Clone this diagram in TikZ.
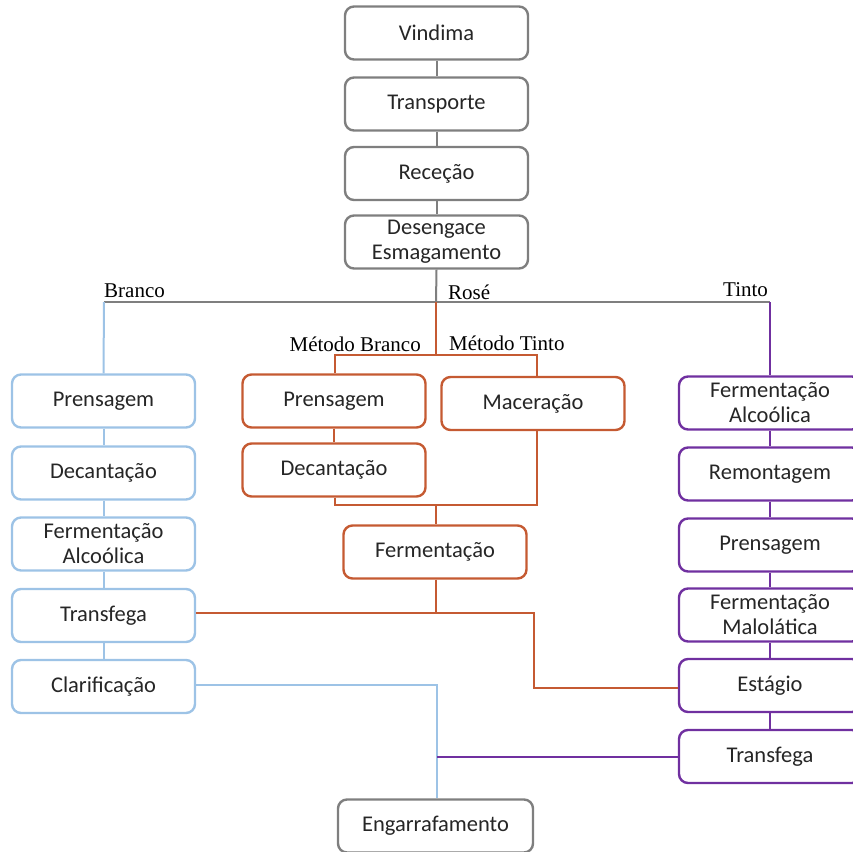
\documentclass[tikz,border=0pt]{standalone}
\usepackage{fontspec}
\setmainfont{Carlito}
\newfontfamily\labelfont{Liberation Serif}
\definecolor{stepgray}{HTML}{7F7F7F}
\definecolor{whiteline}{HTML}{9DC3E6}
\definecolor{roseline}{HTML}{C55A32}
\definecolor{redline}{HTML}{7030A0}
\definecolor{boxtext}{HTML}{262626}
\begin{document}
\begin{tikzpicture}[x=1pt,y=-1pt,
  stepbox/.style={draw, rounded corners=9pt, line width=2.4pt, fill=white,
    minimum width=183pt, minimum height=53pt, inner sep=0pt,
    text=boxtext, align=center, font=\fontsize{22.5}{27}\selectfont},
  graybox/.style={stepbox, draw=stepgray},
  bluebox/.style={stepbox, draw=whiteline},
  orangebox/.style={stepbox, draw=roseline},
  purplebox/.style={stepbox, draw=redline, minimum width=182pt},
  link/.style={line width=2pt},
  graylink/.style={link, draw=stepgray},
  bluelink/.style={link, draw=whiteline},
  orangelink/.style={link, draw=roseline},
  purplelink/.style={link, draw=redline},
  branchlabel/.style={font=\labelfont\fontsize{21}{25}\selectfont, inner sep=0pt, text=black}
]
\useasboundingbox (0,0) rectangle (853,851);

% common trunk
\node[graybox] (vind) at (436.5,33) {Vindima};
\node[graybox] (transp) at (436.5,104) {Transporte};
\node[graybox] (recep) at (436.5,173.5) {Receção};
\node[graybox] (deseng) at (436.5,242) {Desengace\\[-2pt]Esmagamento};

% white wine
\node[bluebox] (bPren) at (103.5,401) {Prensagem};
\node[bluebox] (bDec) at (103.5,473) {Decantação};
\node[bluebox] (bFA) at (103.5,544) {Fermentação\\[-2pt]Alcoólica};
\node[bluebox] (bTrans) at (103.5,615.5) {Transfega};
\node[bluebox] (bClar) at (103.5,686.5) {Clarificação};

% rosé wine
\node[orangebox] (oPren) at (334,401) {Prensagem};
\node[orangebox] (oDec) at (334,470) {Decantação};
\node[orangebox] (oMac) at (533,403.5) {Maceração};
\node[orangebox] (oFerm) at (435,552) {Fermentação};

% red wine
\node[purplebox] (pFA) at (770,403) {Fermentação\\[-2pt]Alcoólica};
\node[purplebox] (pRem) at (770,474) {Remontagem};
\node[purplebox] (pPren) at (770,545) {Prensagem};
\node[purplebox] (pFM) at (770,615) {Fermentação\\[-2pt]Malolática};
\node[purplebox] (pEst) at (770,685.5) {Estágio};
\node[purplebox] (pTrans) at (770,756.5) {Transfega};

% bottling
\node[graybox, minimum width=195pt] (engar) at (435.5,826) {Engarrafamento};

% junction points
\coordinate (jTop) at (436,302);
\coordinate (jWhite) at (104,302);
\coordinate (jRed) at (770,302);
\coordinate (jRose) at (436,355);
\coordinate (jRoseL) at (335,355);
\coordinate (jRoseR) at (537,355);
\coordinate (jMixL) at (335,505);
\coordinate (jMixR) at (537,505);
\coordinate (jMix) at (436,505);
\coordinate (jFerm) at (436,613);
\coordinate (jEst) at (534,613);
\coordinate (jEstLow) at (534,688);
\coordinate (jBottle) at (437,685);
\coordinate (jRedEnd) at (437,757);

% trunk connectors
\draw[graylink] (vind) -- (transp);
\draw[graylink] (transp) -- (recep);
\draw[graylink] (recep) -- (deseng);
\draw[graylink] (deseng.south) -- (jTop);
\draw[graylink] (jWhite) -- (jRed);

% white branch
\draw[bluelink] (jWhite) -- (bPren.north);
\draw[bluelink] (bPren) -- (bDec);
\draw[bluelink] (bDec) -- (bFA);
\draw[bluelink] (bFA) -- (bTrans);
\draw[bluelink] (bTrans) -- (bClar);
\draw[bluelink] (bClar.east |- jBottle) -- (jBottle) -- (jBottle |- engar.north);

% rosé branch
\draw[orangelink] (jTop) -- (jRose);
\draw[orangelink] (oPren.north -| jRoseL) -- (jRoseL) -- (jRoseR) -- (oMac.north -| jRoseR);
\draw[orangelink] (oPren) -- (oDec);
\draw[orangelink] (oDec.south -| jMixL) -- (jMixL) -- (jMixR) -- (oMac.south -| jMixR);
\draw[orangelink] (jMix) -- (oFerm.north -| jMix);
\draw[orangelink] (oFerm.south -| jFerm) -- (jFerm);
\draw[orangelink] (bTrans.east |- jFerm) -- (jEst) -- (jEstLow) -- (pEst.west |- jEstLow);

% red branch
\draw[purplelink] (jRed) -- (pFA.north);
\draw[purplelink] (pFA) -- (pRem);
\draw[purplelink] (pRem) -- (pPren);
\draw[purplelink] (pPren) -- (pFM);
\draw[purplelink] (pFM) -- (pEst);
\draw[purplelink] (pEst) -- (pTrans);
\draw[purplelink] (pTrans.west |- jRedEnd) -- (jRedEnd);

% branch labels
\node[branchlabel, anchor=west] (lWhite) at (104,291) {Branco};
\node[branchlabel, anchor=west] (lRose) at (448,292) {Rosé};
\node[branchlabel, anchor=west] (lRed) at (723,290) {Tinto};
\node[branchlabel, anchor=east] (lMetB) at (421,344) {Método Branco};
\node[branchlabel, anchor=west] (lMetT) at (449,343) {Método Tinto};
\end{tikzpicture}
\end{document}
